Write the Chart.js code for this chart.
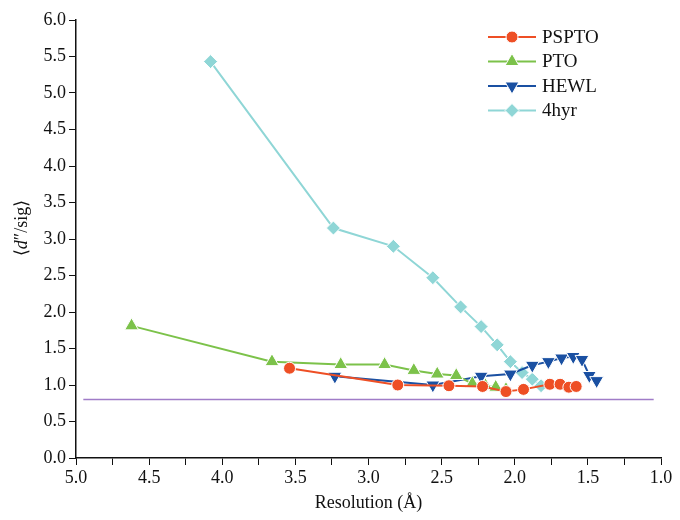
<!DOCTYPE html>
<html>
<head>
<meta charset="utf-8">
<script src="https://cdn.jsdelivr.net/npm/chart.js@4/dist/chart.umd.min.js"></script>
<style>
  html, body { margin: 0; padding: 0; background: #fff; }
  #wrap { width: 680px; height: 520px; }
</style>
</head>
<body>
<div id="wrap"><canvas id="chart1"></canvas></div>
<script>
// data (resolution in Å, <d''/sig>)
const psptoX = [3.54, 2.80, 2.45, 2.22, 2.06, 1.94, 1.76, 1.69, 1.63, 1.58]
const psptoY = [1.23, 1.00, 0.99, 0.98, 0.91, 0.94, 1.01, 1.01, 0.97, 0.98]

const ptoX = [4.62, 3.66, 3.19, 2.89, 2.69, 2.53, 2.40, 2.29, 2.20, 2.13, 2.06]
const ptoY = [1.81, 1.32, 1.28, 1.28, 1.20, 1.15, 1.13, 1.02, 0.99, 0.97, 0.94]

const hewlX = [3.23, 2.56, 2.23, 2.03, 1.88, 1.77, 1.68, 1.60, 1.54, 1.49, 1.44]
const hewlY = [1.12, 1.00, 1.12, 1.15, 1.27, 1.32, 1.37, 1.39, 1.35, 1.13, 1.06]

const hyrX = [4.08, 3.24, 2.83, 2.56, 2.37, 2.23, 2.12, 2.03, 1.95, 1.88, 1.82]
const hyrY = [5.43, 3.15, 2.90, 2.47, 2.07, 1.80, 1.55, 1.32, 1.17, 1.08, 0.99]

const cutX = [4.95, 1.05]
const cutY = [0.8, 0.8]

const xTicks = [5.0, 4.5, 4.0, 3.5, 3.0, 2.5, 2.0, 1.5, 1.0]

const serif = "'Liberation Serif', 'Times New Roman', serif"

const pts = (xs, ys) => xs.map((x, i) => ({ x: x, y: ys[i] }))

const series = [
  { label: 'PSPTO', xs: psptoX, ys: psptoY, color: '#ee4f25', style: 'circle', r: 6 },
  { label: 'PTO', xs: ptoX, ys: ptoY, color: '#7cc24a', style: 'triangle', r: 8 },
  { label: 'HEWL', xs: hewlX, ys: hewlY, color: '#1a50a2', style: 'triangle', r: 8, rot: 180 },
  { label: '4hyr', xs: hyrX, ys: hyrY, color: '#8fd6d6', style: 'rectRot', r: 7 }
]

let datasets = series.map(s => ({
  label: s.label,
  data: pts(s.xs, s.ys),
  borderColor: s.color,
  backgroundColor: s.color,
  borderWidth: 2,
  pointStyle: s.style,
  pointRotation: s.rot || 0,
  pointRadius: s.r,
  pointBorderColor: '#fff',
  pointBorderWidth: 1,
  showLine: true
}))

datasets.push({
  label: 'cut',
  data: pts(cutX, cutY),
  borderColor: '#a07cc8',
  borderWidth: 1.5,
  pointRadius: 0,
  showLine: true
})

//=============== LEGEND WITH LINE + MARKER, AND Y TITLE ===============
const extras = {
  id: 'extras',
  afterDraw(chart) {
    const ctx = chart.ctx
    ctx.save()
    series.forEach((s, i) => {
      const y = 37 + i * 24.5
      ctx.strokeStyle = s.color
      ctx.lineWidth = 2
      ctx.beginPath()
      ctx.moveTo(488, y)
      ctx.lineTo(536, y)
      ctx.stroke()
      ctx.fillStyle = s.color
      ctx.strokeStyle = '#fff'
      ctx.lineWidth = 1
      Chart.helpers.drawPoint(ctx, { pointStyle: s.style, rotation: s.rot || 0, radius: s.r, borderWidth: 1 }, 512, y)
      ctx.fillStyle = '#111'
      ctx.font = '19px ' + serif
      ctx.textBaseline = 'middle'
      ctx.fillText(s.label, 542, y + 1)
    })

    // y axis title: <d''/sig> with italic d
    ctx.translate(22, 228)
    ctx.rotate(-Math.PI / 2)
    ctx.fillStyle = '#111'
    ctx.textBaseline = 'middle'
    const parts = [['⟨', '18px ' + serif], ['d', 'italic 18px ' + serif], ['″/sig', '18px ' + serif], ['⟩', '18px ' + serif]]
    let w = 0
    parts.forEach(p => { ctx.font = p[1]; w += ctx.measureText(p[0]).width })
    let x = -w / 2
    parts.forEach(p => {
      ctx.font = p[1]
      ctx.fillText(p[0], x, 0)
      x += ctx.measureText(p[0]).width
    })
    ctx.restore()
  }
}

new Chart(document.getElementById('chart1'), {
  type: 'scatter',
  data: { datasets: datasets },
  plugins: [extras],
  options: {
    responsive: true,
    maintainAspectRatio: false,
    animation: false,
    layout: { padding: { left: 0, right: 19, top: 20, bottom: 6 } },
    plugins: {
      legend: { display: false },
      tooltip: { enabled: false }
    },
    scales: {
      x: {
        type: 'linear',
        reverse: true,
        min: 1.0,
        max: 5.0,
        afterBuildTicks: (scale) => {
          let t = []
          for (let i = 0; i <= 16; i++) t.push({ value: 1.0 + i * 0.25 })
          scale.ticks = t
        },
        ticks: {
          autoSkip: false,
          maxRotation: 0,
          color: '#111',
          font: { family: serif, size: 18 },
          padding: 2,
          callback: (v) => xTicks.some(t => Math.abs(t - v) < 1e-6) ? Number(v).toFixed(1) : ''
        },
        grid: { drawOnChartArea: false, drawTicks: true, tickLength: 7, color: '#111' },
        border: { display: true, color: '#111', width: 1.5 },
        title: { display: true, text: 'Resolution (Å)', color: '#111', font: { family: serif, size: 18 }, padding: { top: 1, bottom: 0 } },
        afterFit: (scale) => { scale.height = 56 }
      },
      y: {
        min: 0,
        max: 6.0,
        ticks: {
          stepSize: 0.5,
          color: '#111',
          font: { family: serif, size: 18 },
          padding: 3,
          callback: (v) => Number(v).toFixed(1)
        },
        grid: { drawOnChartArea: false, drawTicks: true, tickLength: 7, color: '#111' },
        border: { display: true, color: '#111', width: 1.5 },
        afterFit: (scale) => { scale.width = 76 }
      }
    }
  }
})
</script>
</body>
</html>
